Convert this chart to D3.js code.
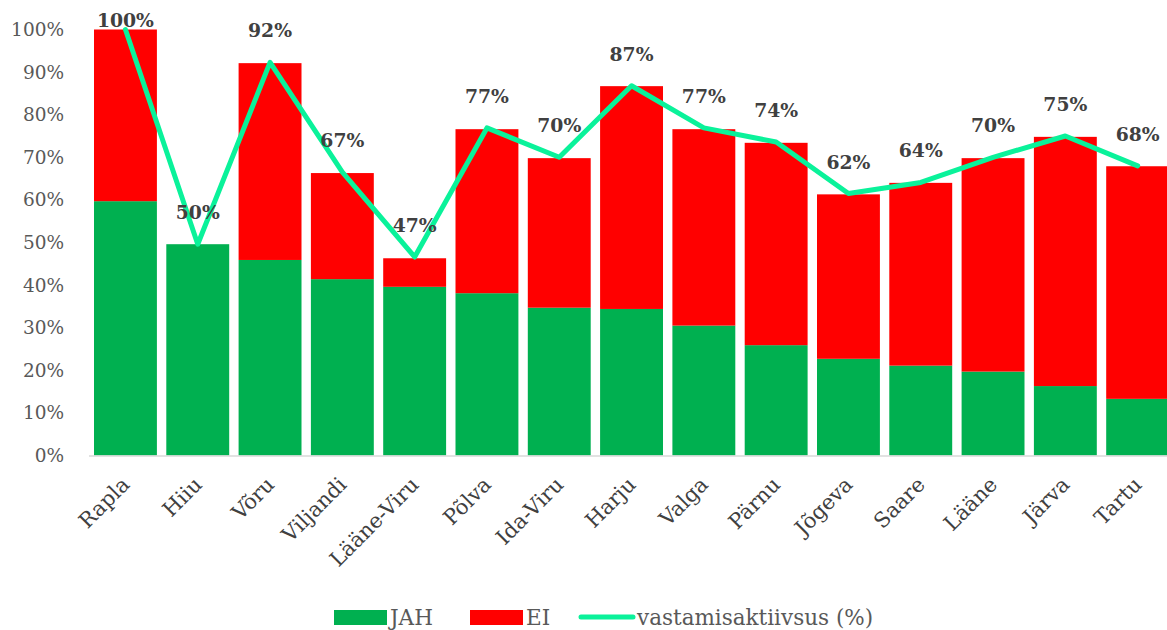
<!DOCTYPE html>
<html>
<head>
<meta charset="utf-8">
<script src="https://cdn.jsdelivr.net/npm/d3@7"></script>
<style>
  body { margin: 0; background: #fff; }
  svg { display: block; font-family: "DejaVu Serif", serif; }
</style>
</head>
<body>
<div id="chart"></div>
<script>
var maakonnad = ['Rapla','Hiiu','Võru','Viljandi','Lääne-Viru','Põlva','Ida-Viru','Harju','Valga','Pärnu','Jõgeva','Saare','Lääne','Järva','Tartu'];
var jah = [0.597, 0.496, 0.459, 0.414, 0.396, 0.381, 0.347, 0.344, 0.305, 0.259, 0.227, 0.211, 0.197, 0.163, 0.133];
var ei  = [0.403, 0.000, 0.462, 0.249, 0.067, 0.385, 0.351, 0.523, 0.461, 0.475, 0.386, 0.429, 0.501, 0.585, 0.546];
var vastamine = [1.000, 0.496, 0.923, 0.665, 0.466, 0.769, 0.700, 0.868, 0.769, 0.736, 0.615, 0.641, 0.700, 0.750, 0.680];
var yTicks = [0, 0.1, 0.2, 0.3, 0.4, 0.5, 0.6, 0.7, 0.8, 0.9, 1];

var width = 1167,
    height = 630;

var roheline = '#00b050', punane = '#ff0000', joon = '#0af29a';

var svg = d3.select('#chart')
  .append('svg')
  .attr('width', width)
  .attr('height', height);

var x = d3.scaleBand()
  .domain(maakonnad)
  .range([89.3, 1173.8])
  .paddingInner(0.13)
  .paddingOuter(0.065);

var y = d3.scaleLinear()
  .domain([0, 1])
  .range([455.5, 29.5]);

// y telg
var yAxis = svg.append('g')
  .attr('transform', 'translate(89,0)')
  .call(d3.axisLeft(y).tickValues(yTicks).tickFormat(d3.format('.0%')).tickSize(0).tickPadding(25));
yAxis.select('.domain').remove();
yAxis.selectAll('text')
  .attr('fill', '#595959')
  .style('font-family', '"DejaVu Serif", serif')
  .style('font-size', '18.5px');

// tulbad
var data = maakonnad.map(function(m, i) {
  return { nimi: m, jah: jah[i], ei: ei[i], v: vastamine[i] };
});

svg.selectAll('.jah')
  .data(data)
  .enter()
  .append('rect')
  .attr('class', 'jah')
  .attr('x', function(d) { return x(d.nimi) })
  .attr('width', x.bandwidth())
  .attr('y', function(d) { return y(d.jah) })
  .attr('height', function(d) { return y(0) - y(d.jah) })
  .attr('fill', roheline);

svg.selectAll('.ei')
  .data(data.filter(function(d) { return d.ei > 0 }))
  .enter()
  .append('rect')
  .attr('class', 'ei')
  .attr('x', function(d) { return x(d.nimi) })
  .attr('width', x.bandwidth())
  .attr('y', function(d) { return y(d.jah + d.ei) })
  .attr('height', function(d) { return y(d.jah) - y(d.jah + d.ei) })
  .attr('fill', punane);

// x telje joon
svg.append('line')
  .attr('x1', 89).attr('x2', width)
  .attr('y1', y(0) + 0.5).attr('y2', y(0) + 0.5)
  .attr('stroke', '#d9d9d9')
  .attr('stroke-width', 1.5);

// vastamisaktiivsus
var cx = function(d) { return x(d.nimi) + x.bandwidth() / 2 };

var line = d3.line()
  .x(cx)
  .y(function(d) { return y(d.v) });

svg.append('path')
  .datum(data)
  .attr('d', line)
  .attr('fill', 'none')
  .attr('stroke', joon)
  .attr('stroke-width', 5)
  .attr('stroke-linejoin', 'round')
  .attr('stroke-linecap', 'round');

svg.selectAll('.silt')
  .data(data)
  .enter()
  .append('text')
  .attr('class', 'silt')
  .attr('x', cx)
  .attr('y', function(d) { return Math.max(y(d.v) - 25, 27) })
  .attr('text-anchor', 'middle')
  .attr('fill', '#404040')
  .style('font-weight', 'bold')
  .style('font-size', '18.8px')
  .text(function(d) { return d3.format('.0%')(d.v) });

// kategooriad
svg.selectAll('.kat')
  .data(data)
  .enter()
  .append('text')
  .attr('class', 'kat')
  .attr('transform', function(d) { return 'translate(' + (cx(d) + 5.5) + ',486) rotate(-45)' })
  .attr('text-anchor', 'end')
  .attr('fill', '#404040')
  .style('font-size', '21px')
  .text(function(d) { return d.nimi });

// legend
var legend = svg.append('g').attr('class', 'legend');
legend.append('rect').attr('x', 334).attr('y', 610).attr('width', 53).attr('height', 15).attr('fill', roheline);
legend.append('text').attr('x', 390).attr('y', 625).text('JAH');
legend.append('rect').attr('x', 470).attr('y', 610).attr('width', 53).attr('height', 15).attr('fill', punane);
legend.append('text').attr('x', 526).attr('y', 625).text('EI');
legend.append('line').attr('x1', 581).attr('x2', 633).attr('y1', 617).attr('y2', 617)
  .attr('stroke', joon).attr('stroke-width', 5).attr('stroke-linecap', 'round');
legend.append('text').attr('x', 637).attr('y', 625).text('vastamisaktiivsus (%)');
legend.selectAll('text')
  .attr('fill', '#595959')
  .style('font-size', '21.5px');
</script>
</body>
</html>
